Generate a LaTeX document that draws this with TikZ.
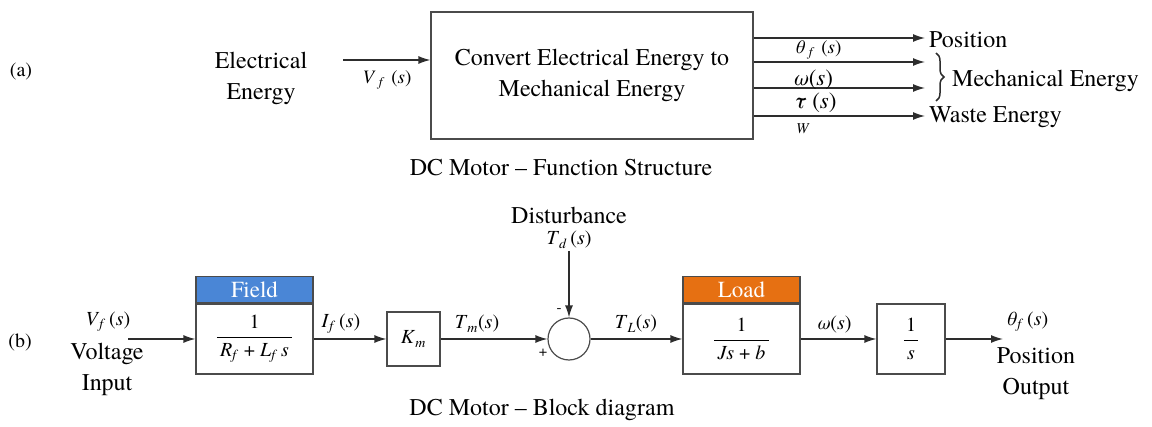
\documentclass[tikz,border=0pt]{standalone}
\usepackage{fontspec}
\setmainfont{texgyretermes}[Extension=.otf, UprightFont=*-regular, ItalicFont=*-italic, BoldFont=*-bold, BoldItalicFont=*-bolditalic]
\newfontfamily\tms{texgyretermes}[Extension=.otf, UprightFont=*-regular, ItalicFont=*-italic, BoldFont=*-bold, BoldItalicFont=*-bolditalic]
\usetikzlibrary{arrows.meta,decorations.pathreplacing}
\definecolor{ln}{RGB}{45,45,45}
\definecolor{bd}{RGB}{75,75,75}
\definecolor{fieldblue}{RGB}{74,134,214}
\definecolor{loadorange}{RGB}{230,112,18}
\newcommand{\mysub}[1]{\textsubscript{\textit{#1}}}
\newcommand{\iv}[1]{\textit{#1}}
\begin{document}
\begin{tikzpicture}[x=1pt,y=-1pt,
  lbl/.style={font=\tms\fontsize{24}{28}\selectfont, inner sep=0pt, align=center},
  var/.style={font=\tms\fontsize{20}{22}\selectfont, inner sep=0pt},
  sml/.style={font=\tms\fontsize{19}{20}\selectfont, inner sep=0pt},
  big/.style={font=\tms\fontsize{23}{24}\selectfont, inner sep=0pt},
  blk/.style={draw=bd, line width=1.2pt, inner sep=0pt, fill=white},
  hdr/.style={draw=bd, line width=1.2pt, inner sep=0pt, minimum height=26pt, text=white, font=\tms\fontsize{23}{24}\selectfont},
  arr/.style={draw=ln, line width=1.3pt, -{Latex[length=12pt,width=8pt]}},
  frac/.style={font=\tms\fontsize{20}{24}\selectfont}
]
\useasboundingbox (0,0) rectangle (1152,427);

% ---------------- (a) ----------------
\node[var] (la) at (21,72) {(a)};
\node[lbl] (elec) at (261,78) {Electrical\\[3pt]Energy};
\node[blk, minimum width=322pt, minimum height=127pt, lbl] (conv) at (592,75.5)
  {Convert Electrical Energy to\\[3pt]Mechanical Energy};
\coordinate (ein) at (343,60);
\draw[arr] (ein) -- (ein -| conv.west);
\node[sml] (vf) at (387,80) {\iv{V}\,\mysub{f}\,\,(\iv{s})};

\coordinate (o1) at (925,38);
\coordinate (o2) at (925,62);
\coordinate (o3) at (925,88);
\coordinate (o4) at (925,116);
\draw[arr] (o1 -| conv.east) -- (o1);
\draw[arr] (o2 -| conv.east) -- (o2);
\draw[arr] (o3 -| conv.east) -- (o3);
\draw[arr] (o4 -| conv.east) -- (o4);
\node[sml] (th) at (818,50) {\iv{θ}\,\mysub{f}\,\,(\iv{s})};
\node[big] (om) at (813,80) {\iv{ω}(\iv{s})};
\node[big] (tau) at (815,103) {\iv{τ} (\iv{s})};
\node[sml, font=\tms\fontsize{15}{16}\selectfont] (w) at (803,129) {\iv{W}};

\node[lbl, anchor=west] (pos) at (929,40) {Position};
\draw[ln, line width=1.5pt, decorate, decoration={brace, amplitude=8pt}] (936,53) -- (936,101);
\node[lbl, anchor=west] (mech) at (952,81) {Mechanical Energy};
\node[lbl, anchor=west] (waste) at (929,117) {Waste Energy};
\node[lbl] (capa) at (561,168) {DC Motor – Function Structure};

% ---------------- (b) ----------------
\node[var] (lb) at (20,342) {(b)};
\node[var] (vin) at (108,322) {\iv{V}\mysub{f}\,(\iv{s})};
\node[lbl] (volt) at (107,369) {Voltage\\[3pt]Input};
\coordinate (vstart) at (128,339);

\node[blk, minimum width=117pt, minimum height=70pt, frac] (field) at (254.5,339)
  {$\displaystyle\frac{\mbox{\tms 1}}{\mbox{\tms\,\iv{R}\mysub{f} + \iv{L}\mysub{f}\,\iv{s}\,}}$};
\node[hdr, fill=fieldblue, minimum width=117pt, anchor=south] (fieldh) at (field.north) {Field};

\node[blk, minimum width=53pt, minimum height=54pt, frac] (km) at (413.5,339) {\iv{K}\mysub{m}};
\node[draw=bd, line width=1.2pt, circle, minimum size=42pt, inner sep=0pt] (sum) at (569,339) {};
\node[lbl] (dist) at (569,215) {Disturbance};
\node[var] (td) at (569,240) {\iv{T}\mysub{d}\,(\iv{s})};
\coordinate (dstart) at (569,251);
\node[sml, font=\tms\fontsize{15}{16}\selectfont] (minus) at (559,311) {-};
\node[sml, font=\tms\fontsize{15}{16}\selectfont] (plus) at (543,353) {+};

\node[blk, minimum width=117pt, minimum height=70pt, frac] (load) at (741.5,339)
  {$\displaystyle\frac{\mbox{\tms 1}}{\mbox{\tms\,\iv{Js} + \iv{b}\,}}$};
\node[hdr, fill=loadorange, minimum width=117pt, anchor=south] (loadh) at (load.north) {Load};

\node[blk, minimum width=68pt, minimum height=70pt, frac] (integ) at (911,339)
  {$\displaystyle\frac{\mbox{\tms 1}}{\mbox{\tms\,\iv{s}\,}}$};
\coordinate (vend) at (1003,339);

\draw[arr] (vstart) -- (field.west);
\draw[arr] (field.east) -- (km.west);
\draw[arr] (km.east) -- (sum.west);
\draw[arr] (dstart) -- (sum.north);
\draw[arr] (sum.east) -- (load.west);
\draw[arr] (load.east) -- (integ.west);
\draw[arr] (integ.east) -- (vend);

\node[var] (if) at (341,324) {\iv{I}\mysub{f}\,(\iv{s})};
\node[var] (tm) at (477,324) {\iv{T}\mysub{m}(\iv{s})};
\node[var] (tl) at (636,324) {\iv{T}\mysub{L}(\iv{s})};
\node[var] (om2) at (834,325) {\iv{ω}(\iv{s})};
\node[var] (thout) at (1027,322) {\iv{θ}\mysub{f}\,(\iv{s})};
\node[lbl] (posout) at (1036,374) {Position\\[3pt]Output};
\node[lbl] (capb) at (542,410) {DC Motor – Block diagram};
\end{tikzpicture}
\end{document}
